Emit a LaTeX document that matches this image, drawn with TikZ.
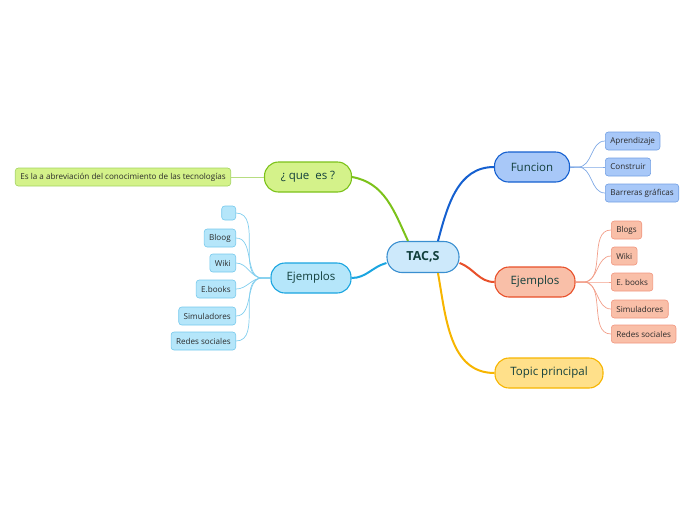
\documentclass[tikz,border=0pt]{standalone}
\usepackage{fontspec}
\setmainfont{Open Sans}
\usepackage{tikz}
\usetikzlibrary{arrows,shapes,positioning}

\definecolor{txtmain}{HTML}{123F3C}
\definecolor{txtsub}{HTML}{2A2A2A}
\definecolor{tacfill}{HTML}{CDE9FB}
\definecolor{tacline}{HTML}{3A8FD0}
\definecolor{funfill}{HTML}{A8C8F8}
\definecolor{funline}{HTML}{1560D0}
\definecolor{ejrfill}{HTML}{F9BFA8}
\definecolor{ejrline}{HTML}{E8502A}
\definecolor{topfill}{HTML}{FFE08A}
\definecolor{topline}{HTML}{F7B500}
\definecolor{quefill}{HTML}{D4F28A}
\definecolor{queline}{HTML}{7CC21A}
\definecolor{ejlfill}{HTML}{B5E6FA}
\definecolor{ejlline}{HTML}{1AA5E0}

\tikzset{
  mainbox/.style={rectangle, rounded corners=14pt, line width=1.1pt,
    minimum height=30pt, inner xsep=12pt, font=\fontsize{11.5}{13}\selectfont, text=txtmain},
  subbox/.style={rectangle, rounded corners=3pt, line width=0.6pt,
    minimum height=18pt, inner xsep=5pt, font=\fontsize{8.1}{9}\selectfont, text=txtsub},
  branch/.style={line width=2pt},
  twig/.style={line width=0.7pt}
}

\begin{document}
\begin{tikzpicture}[x=1pt,y=-1pt]
\useasboundingbox (0,0) rectangle (696,520);

% central topic
\node[mainbox, draw=tacline, fill=tacfill, minimum width=72pt, minimum height=31pt,
  rounded corners=15pt, font=\fontsize{12.5}{14}\selectfont\bfseries] (tacs) at (423,257) {TAC,S};

% main branches
\node[mainbox, draw=funline, fill=funfill, minimum width=75pt] (fun) at (532,167) {Funcion};
\node[mainbox, draw=ejrline, fill=ejrfill, minimum width=80pt] (ejr) at (535,282) {Ejemplos};
\node[mainbox, draw=topline, fill=topfill, minimum width=108pt] (top) at (549,373) {Topic principal};
\node[mainbox, draw=queline, fill=quefill, minimum width=87pt] (que) at (308,177) {¿ que\ \ es ?};
\node[mainbox, draw=ejlline, fill=ejlfill, minimum width=80pt] (ejl) at (311,278) {Ejemplos};

% sub topics of Funcion
\node[subbox, draw=funline!60, fill=funfill, anchor=west] (apr) at (605,141) {Aprendizaje};
\node[subbox, draw=funline!60, fill=funfill, anchor=west] (con) at (605,167) {Construir};
\node[subbox, draw=funline!60, fill=funfill, anchor=west] (bar) at (605,193) {Barreras gráficas};

% sub topics of Ejemplos (right)
\node[subbox, draw=ejrline!60, fill=ejrfill, anchor=west] (blo) at (611,230) {Blogs};
\node[subbox, draw=ejrline!60, fill=ejrfill, anchor=west] (wir) at (611,256) {Wiki};
\node[subbox, draw=ejrline!60, fill=ejrfill, anchor=west] (ebr) at (611,282) {E. books};
\node[subbox, draw=ejrline!60, fill=ejrfill, anchor=west] (sir) at (611,309) {Simuladores};
\node[subbox, draw=ejrline!60, fill=ejrfill, anchor=west] (rer) at (611,334) {Redes sociales};

% sub topics of Ejemplos (left)
\node[subbox, draw=ejlline!60, fill=ejlfill, anchor=east, minimum width=14pt, minimum height=14pt] (emp) at (236,213) {};
\node[subbox, draw=ejlline!60, fill=ejlfill, anchor=east] (bll) at (236,238) {Bloog};
\node[subbox, draw=ejlline!60, fill=ejlfill, anchor=east] (wil) at (236,263) {Wiki};
\node[subbox, draw=ejlline!60, fill=ejlfill, anchor=east] (ebl) at (236,289) {E.books};
\node[subbox, draw=ejlline!60, fill=ejlfill, anchor=east] (sil) at (236,316) {Simuladores};
\node[subbox, draw=ejlline!60, fill=ejlfill, anchor=east] (rel) at (236,341) {Redes sociales};

% sub topic of que es
\node[subbox, draw=queline!70, fill=quefill, anchor=east] (abr) at (231,177)
  {Es la a abreviación del conocimiento de las tecnologías};

% branches
\draw[branch, funline] ([xshift=15pt]tacs.north) to[out=75, in=180] (fun.west);
\draw[branch, queline] ([xshift=-15pt]tacs.north) to[out=115, in=-10] (que.east);
\draw[branch, ejlline] ([yshift=-6pt]tacs.west) to[out=195, in=0] (ejl.east);
\draw[branch, ejrline] ([yshift=-6pt]tacs.east) to[out=-20, in=180] (ejr.west);
\draw[branch, topline] ([xshift=15pt]tacs.south) to[out=-80, in=180] (top.west);

% twigs
\foreach \n in {apr,con,bar}
  \draw[twig, funline!55] (fun.east) -- ++(8,0) to[out=0, in=180] (\n.west);
\foreach \n in {blo,wir,ebr,sir,rer}
  \draw[twig, ejrline!55] (ejr.east) -- ++(8,0) to[out=0, in=180] (\n.west);
\foreach \n in {emp,bll,wil,ebl,sil,rel}
  \draw[twig, ejlline!55] (ejl.west) -- ++(-8,0) to[out=180, in=0] (\n.east);
\draw[twig, queline!55] (que.west) -- (abr.east);

\end{tikzpicture}
\end{document}
